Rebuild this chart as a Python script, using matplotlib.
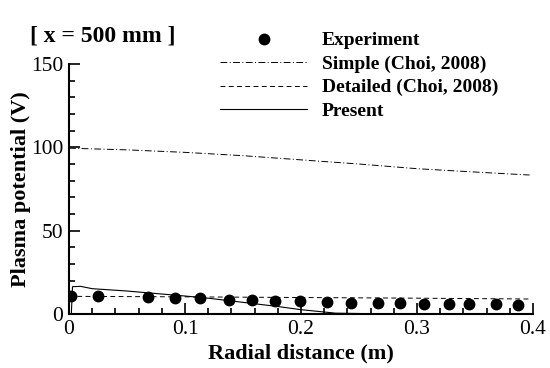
import numpy as np
import matplotlib.pyplot as plt
from matplotlib.ticker import MultipleLocator

plt.rcParams['font.family'] = ['Liberation Serif', 'DejaVu Serif']

# Experiment (dots)
exp_r = [0.002, 0.025, 0.068, 0.091, 0.113, 0.138, 0.158, 0.178, 0.199, 0.222,
         0.243, 0.266, 0.285, 0.306, 0.328, 0.345, 0.368, 0.387]
exp_v = [10.8, 10.8, 10.2, 9.5, 9.5, 8.5, 8.2, 7.6, 7.6, 7.3,
         6.8, 6.5, 6.5, 6.2, 6.0, 6.0, 5.8, 5.5]

# Simple (Choi, 2008)
simple_r = [0.0, 0.05, 0.1, 0.15, 0.2, 0.25, 0.3, 0.35, 0.397]
simple_v = [99.5, 98.5, 97.0, 95.0, 92.5, 90.0, 87.2, 85.2, 83.4]

# Detailed (Choi, 2008)
detailed_r = [0.0, 0.1, 0.2, 0.3, 0.397]
detailed_v = [10.6, 10.3, 9.9, 9.5, 9.0]

# Present
present_r = [0.002, 0.003, 0.01, 0.02, 0.05, 0.08, 0.1, 0.12, 0.15, 0.18, 0.2, 0.23, 0.26, 0.4]
present_v = [0.3, 16.4, 16.6, 15.2, 13.8, 12.0, 10.8, 9.5, 7.0, 4.5, 2.6, 0.5, 0.2, 0.2]

fig = plt.figure(figsize=(5.5, 3.68), dpi=100)
ax = fig.add_axes([0.1255, 0.1467, 0.8436, 0.6793])

l_exp, = ax.plot(exp_r, exp_v, 'o', color='black', markersize=7.5, linestyle='none')
l_simple, = ax.plot(simple_r, simple_v, color='black', lw=0.7, dashes=[7, 2.5, 1, 2.5])
l_det, = ax.plot(detailed_r, detailed_v, color='black', lw=0.7, dashes=[5, 3.5])
l_pres, = ax.plot(present_r, present_v, color='black', lw=0.8)

ax.set_xlim(0, 0.4)
ax.set_ylim(0, 150)
ax.xaxis.set_major_locator(MultipleLocator(0.1))
ax.xaxis.set_minor_locator(MultipleLocator(0.02))
ax.yaxis.set_major_locator(MultipleLocator(50))
ax.yaxis.set_minor_locator(MultipleLocator(10))
ax.set_xticks([0, 0.1, 0.2, 0.3, 0.4], ['0', '0.1', '0.2', '0.3', '0.4'])
ax.tick_params(which='both', direction='in', labelsize=15.5, width=1.2)
ax.tick_params(axis='x', pad=4.5)
ax.tick_params(axis='y', pad=4)
ax.tick_params(which='major', length=8)
ax.tick_params(which='minor', length=4)
ax.spines['top'].set_visible(False)
ax.spines['right'].set_visible(False)
ax.spines['left'].set_linewidth(1.5)
ax.spines['bottom'].set_linewidth(1.5)

ax.set_xlabel('Radial distance (m)', fontsize=16, fontweight='bold', labelpad=3)
ax.set_ylabel('Plasma potential (V)', fontsize=16, fontweight='bold', labelpad=0)

fig.text(0.055, 0.903, '[ x = 500 mm ]', fontsize=17, fontweight='bold', va='center')

fig.legend([l_exp, l_simple, l_det, l_pres],
           ['Experiment', 'Simple (Choi, 2008)', 'Detailed (Choi, 2008)', 'Present'],
           loc='upper left', bbox_to_anchor=(0.382, 0.94), frameon=False,
           prop={'weight': 'bold', 'size': 14}, handlelength=4.5,
           handletextpad=0.75, labelspacing=0.3, borderpad=0)

fig.savefig('out.png', dpi=100)
